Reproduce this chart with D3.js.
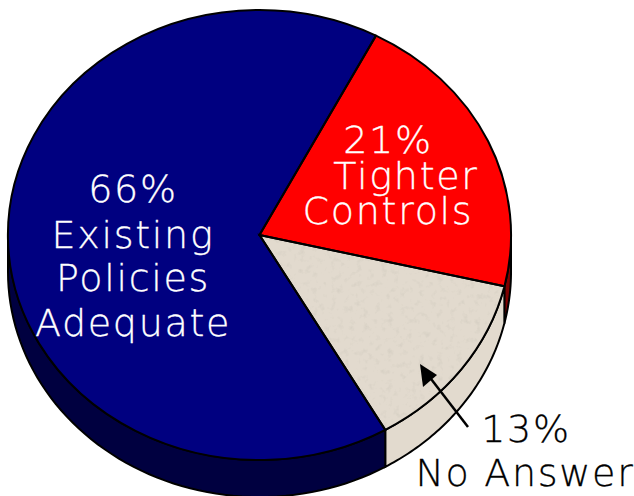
<!DOCTYPE html>
<html>
<head>
<meta charset="utf-8">
<script src="https://cdn.jsdelivr.net/npm/d3@7"></script>
<style>
  html, body { margin: 0; padding: 0; background: #fff; }
  svg { display: block; }
  text { font-family: "DejaVu Sans", sans-serif; font-weight: 200; text-anchor: middle; letter-spacing: 1.7px; }
</style>
</head>
<body>
<div id="chart"></div>
<script>
// Datos del gráfico, en sentido horario desde la porción roja
const categories = ["Tighter Controls", "No Answer", "Existing Policies Adequate"];
const values = [21, 13, 66];
const topColors = ["#ff0000", "#e2dace", "#000080"];
const sideColors = ["#800000", "#e2dace", "#000040"];

const width = 634;
const height = 496;
const cx = 259.5;
const cy = 235;
const rx = 251.5;
const ry = 225;
const depth = 37;

const svg = d3.select("#chart").append("svg")
    .attr("width", width)
    .attr("height", height);

// Textura de la porción beige
const defs = svg.append("defs");
const grain = defs.append("filter").attr("id", "grain")
    .attr("x", -0.02).attr("y", -0.02).attr("width", 1.04).attr("height", 1.04);
grain.append("feTurbulence")
    .attr("type", "fractalNoise").attr("baseFrequency", 0.16)
    .attr("numOctaves", 3).attr("seed", 4).attr("result", "noise");
grain.append("feColorMatrix").attr("in", "noise").attr("type", "matrix")
    .attr("values", "0 0 0 0 0.55  0 0 0 0 0.52  0 0 0 0 0.46  1.1 0 0 0 -0.6")
    .attr("result", "specks");
grain.append("feComposite").attr("in", "specks").attr("in2", "SourceAlpha")
    .attr("operator", "in").attr("result", "clipped");
grain.append("feMerge").selectAll("feMergeNode")
    .data(["SourceGraphic", "clipped"])
    .join("feMergeNode").attr("in", d => d);

// La porción roja empieza en este ángulo, en sentido horario desde arriba
const startAngle = 27.6 * Math.PI / 180;
const pie = d3.pie().sort(null)
    .startAngle(startAngle)
    .endAngle(startAngle + 2 * Math.PI);
const slices = pie(values);

const arc = d3.arc().innerRadius(0).outerRadius(1);
const faceTransform = `translate(${cx},${cy}) scale(${rx},${ry})`;

// Pared lateral: solo se ve la mitad inferior de la elipse
const wall = d3.area()
    .x(a => cx + rx * Math.sin(a))
    .y0(a => cy - ry * Math.cos(a))
    .y1(a => cy - ry * Math.cos(a) + depth);

function visibleAngles(d) {
    const lo = Math.PI / 2;
    const hi = 3 * Math.PI / 2;
    const from = Math.max(d.startAngle, lo);
    const to = Math.min(d.endAngle, hi);
    if (to <= from) return [];
    return d3.range(0, 61).map(i => from + (to - from) * i / 60);
}

svg.append("g").selectAll("path")
    .data(slices)
    .join("path")
    .attr("d", d => {
        const angles = visibleAngles(d);
        return angles.length ? wall(angles) : null;
    })
    .attr("fill", (d, i) => sideColors[i])
    .attr("stroke", "#000")
    .attr("stroke-width", 2);

// Cara superior: el filtro va en el grupo para que la textura no se escale
svg.append("g").selectAll("g")
    .data(slices)
    .join("g")
    .attr("filter", (d, i) => i === 1 ? "url(#grain)" : null)
    .append("path")
    .attr("transform", faceTransform)
    .attr("d", arc)
    .attr("fill", (d, i) => topColors[i]);

// Bordes encima de los rellenos
svg.append("g").selectAll("path")
    .data(slices)
    .join("path")
    .attr("transform", faceTransform)
    .attr("d", arc)
    .attr("fill", "none")
    .attr("stroke", "#000")
    .attr("stroke-width", 2)
    .attr("vector-effect", "non-scaling-stroke");

// Etiquetas
const labelLines = [
    { text: `${values[2]}%`, x: 133, y: 202, fill: "#fff" },
    { text: "Existing", x: 133, y: 248, fill: "#fff" },
    { text: "Policies", x: 133, y: 291, fill: "#fff" },
    { text: "Adequate", x: 133, y: 336, fill: "#fff" },
    { text: `${values[0]}%`, x: 388, y: 153, fill: "#fff" },
    { text: "Tighter", x: 406, y: 189, fill: "#fff" },
    { text: "Controls", x: 388, y: 224, fill: "#fff" },
    { text: `${values[1]}%`, x: 526, y: 442, fill: "#000" },
    { text: "No Answer", x: 525, y: 486, fill: "#000" }
];

svg.append("g").selectAll("text")
    .data(labelLines)
    .join("text")
    .attr("x", d => d.x)
    .attr("y", d => d.y)
    .attr("fill", d => d.fill)
    .attr("stroke", d => d.fill)
    .attr("stroke-width", 0.3)
    .attr("font-size", 38)
    .text(d => d.text);

// Flecha hacia la porción "No Answer"
svg.append("line")
    .attr("x1", 468).attr("y1", 427)
    .attr("x2", 428).attr("y2", 375)
    .attr("stroke", "#000")
    .attr("stroke-width", 2.5);

svg.append("path")
    .attr("d", d3.line()([[420, 364], [437, 375], [423, 387]]) + "Z")
    .attr("fill", "#000");
</script>
</body>
</html>
